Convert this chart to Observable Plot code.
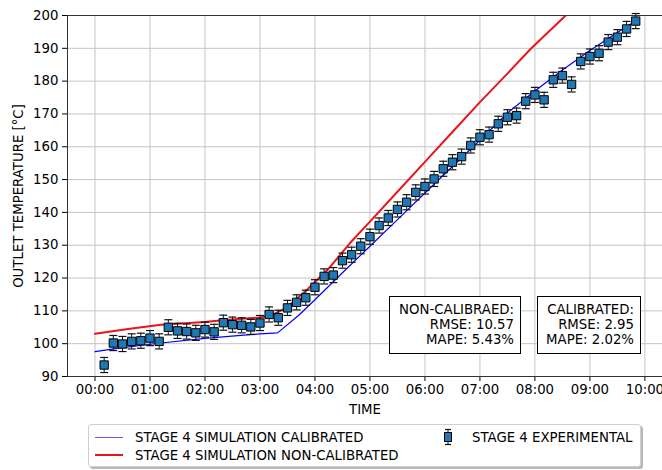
<!DOCTYPE html>
<html>
<head>
<meta charset="utf-8">
<script src="https://cdn.jsdelivr.net/npm/d3@7"></script>
<script src="https://cdn.jsdelivr.net/npm/@observablehq/plot@0.6"></script>
<style>
  body { margin: 0; background: #fff; font-family: "DejaVu Sans", sans-serif; }
  #wrap { position: relative; width: 662px; height: 470px; overflow: hidden; }
  .note {
    position: absolute; box-sizing: border-box; background: #fff;
    border: 1.3px solid #000; text-align: right; color: #000;
    font-size: 13.3px; line-height: 15px; padding: 5px 6px 0 0; white-space: pre;
  }
  .legend {
    position: absolute; left: 88px; top: 424px; width: 553px; height: 43px;
    box-sizing: border-box; background: #fff; border: 1px solid #cfcfcf;
    border-radius: 3px; box-shadow: 2px 2px 0 #b8b8b8;
  }
  .lg-text { position: absolute; font-size: 13.3px; line-height: 15px; color: #000; white-space: nowrap; }
  .lg-line { position: absolute; height: 0; }
</style>
</head>
<body>
<div id="wrap"></div>
<script>
// Experimental outlet temperature, sampled every 10 minutes (minutes, °C)
const expMinutes = [10, 20, 30, 40, 50, 60, 70, 80, 90, 100, 110, 120, 130, 140, 150, 160, 170, 180, 190, 200,
  210, 220, 230, 240, 250, 260, 270, 280, 290, 300, 310, 320, 330, 340, 350, 360, 370, 380, 390, 400,
  410, 420, 430, 440, 450, 460, 470, 480, 490, 500, 510, 520, 530, 540, 550, 560, 570, 580, 590];
const expTemp = [93.5, 100.2, 99.9, 100.7, 100.9, 101.7, 100.7, 105.0, 103.9, 103.7, 103.3, 104.3, 103.6, 106.4, 105.8, 105.6, 105.1, 106.3, 108.9, 107.9,
  110.9, 112.6, 114.0, 117.2, 120.5, 120.9, 125.3, 127.1, 129.7, 132.6, 136.0, 138.3, 140.9, 143.1, 146.1, 147.9, 150.2, 153.3, 155.3, 157.0,
  160.4, 162.9, 163.7, 167.0, 169.0, 169.5, 173.9, 175.8, 174.3, 180.4, 181.7, 179.0, 186.0, 187.5, 188.5, 191.9, 193.4, 195.9, 198.3];
const expError = 2.3; // measurement uncertainty, °C

// Calibrated simulation (hours, °C)
const calTime = [0, 0.5, 1.2, 2.0, 3.0, 3.32, 3.7, 4.0, 4.5, 5.0, 5.5, 6.0, 6.5, 7.0, 7.5, 8.0, 8.5, 9.0, 9.5, 9.84];
const calTemp = [97.6, 98.8, 100.2, 101.6, 103.0, 103.3, 108.6, 113.4, 121.6, 129.7, 137.8, 145.9, 154.0, 162.0, 170.3, 177.0, 183.4, 189.3, 194.8, 198.5];

// Non-calibrated simulation (hours, °C)
const ncTime = [0, 0.6, 1.2, 2.0, 2.35, 3.0, 3.2, 3.4, 3.56, 3.86, 4.23, 4.65, 5.0, 5.5, 6.0, 6.5, 7.0, 7.5, 7.92, 8.56];
const ncTemp = [103.0, 104.5, 105.8, 106.6, 107.2, 108.0, 108.6, 110.2, 112.1, 116.5, 122.5, 130.9, 137.2, 146.3, 155.4, 164.5, 173.6, 182.3, 189.8, 200.0];

// Axis ticks
const hourTicks = [0, 1, 2, 3, 4, 5, 6, 7, 8, 9, 10];
const tempTicks = [90, 100, 110, 120, 130, 140, 150, 160, 170, 180, 190, 200];

// Fit statistics
const nonCalStats = ["NON-CALIBRAED:", "RMSE: 10.57", "MAPE: 5.43%"];
const calStats = ["CALIBRATED:", "RMSE: 2.95", "MAPE: 2.02%"];

const seriesNames = {
  cal: "STAGE 4 SIMULATION CALIBRATED",
  nc: "STAGE 4 SIMULATION NON-CALIBRATED",
  exp: "STAGE 4 EXPERIMENTAL"
};

const COL_CAL = "#0000ff";
const COL_NC = "#e8161b";
const COL_EXP = "#1f77b4";

const experimental = expMinutes.map((m, i) => ({
  t: m / 60, temp: expTemp[i], lo: expTemp[i] - expError, hi: expTemp[i] + expError
}));
const calibrated = calTime.map((t, i) => ({t, temp: calTemp[i]}));
const nonCalibrated = ncTime.map((t, i) => ({t, temp: ncTemp[i]}));

// horizontal cap used at both ends of each error bar
const capSymbol = {
  draw(context) { context.moveTo(-4, 0); context.lineTo(4, 0); }
};

const gridStyle = {stroke: "#c4c4c4", strokeOpacity: 1, strokeWidth: 1};

const chart = Plot.plot({
  width: 662,
  height: 420,
  marginLeft: 67,
  marginRight: 0,
  marginTop: 15,
  marginBottom: 44,
  style: {fontFamily: "DejaVu Sans, sans-serif", fontSize: "13.3px", color: "#000", background: "#fff", overflow: "visible"},
  x: {domain: [-0.5, 10.32]},
  y: {domain: [90, 200]},
  marks: [
    Plot.gridX(hourTicks, gridStyle),
    Plot.gridY(tempTicks, gridStyle),
    Plot.line(calibrated, {x: "t", y: "temp", stroke: COL_CAL, strokeWidth: 1.2, clip: true}),
    Plot.line(nonCalibrated, {x: "t", y: "temp", stroke: COL_NC, strokeWidth: 2, clip: true}),
    Plot.ruleX(experimental, {x: "t", y1: "lo", y2: "hi", stroke: "#111", strokeWidth: 1}),
    Plot.dot(experimental, {x: "t", y: "lo", symbol: capSymbol, fill: "none", stroke: "#111", strokeWidth: 1.2}),
    Plot.dot(experimental, {x: "t", y: "hi", symbol: capSymbol, fill: "none", stroke: "#111", strokeWidth: 1.2}),
    Plot.dot(experimental, {x: "t", y: "temp", symbol: "square", r: 4.7, fill: COL_EXP, stroke: "#000", strokeWidth: 1}),
    Plot.axisX(hourTicks, {
      tickFormat: (d) => String(d).padStart(2, "0") + ":00",
      tickSize: 5, tickPadding: 3,
      label: "TIME", labelAnchor: "center", labelOffset: 37, labelArrow: "none"
    }),
    Plot.axisY(tempTicks, {
      tickSize: 5, tickPadding: 4,
      label: "OUTLET TEMPERATURE [°C]", labelAnchor: "center", labelOffset: 54, labelArrow: "none"
    }),
    Plot.frame({anchor: "top", stroke: "#333"}),
    Plot.frame({anchor: "left", stroke: "#333"}),
    Plot.frame({anchor: "bottom", stroke: "#333"})
  ]
});

const wrap = document.getElementById("wrap");
wrap.appendChild(chart);

// statistics boxes
function addNote(lines, left, top, width, height) {
  const div = document.createElement("div");
  div.className = "note";
  Object.assign(div.style, {left: left + "px", top: top + "px", width: width + "px", height: height + "px"});
  div.textContent = lines.join("\n");
  wrap.appendChild(div);
}
addNote(nonCalStats, 389, 296, 132, 58);
addNote(calStats, 537, 296, 104, 58);

// legend
const legend = document.createElement("div");
legend.className = "legend";
wrap.appendChild(legend);

function addLegendText(text, left, top) {
  const el = document.createElement("div");
  el.className = "lg-text";
  el.style.left = left + "px";
  el.style.top = top + "px";
  el.textContent = text;
  wrap.appendChild(el);
}
function addLegendLine(color, width, left, centerY) {
  const el = document.createElement("div");
  el.className = "lg-line";
  Object.assign(el.style, {
    left: left + "px", top: (centerY - width / 2) + "px", width: "28px",
    borderTop: width + "px solid " + color
  });
  wrap.appendChild(el);
}
addLegendLine("#5a5aff", 1, 95, 437);
addLegendText(seriesNames.cal, 135, 429.5);
addLegendLine(COL_NC, 2, 95, 455);
addLegendText(seriesNames.nc, 135, 447.5);
addLegendText(seriesNames.exp, 472, 429.5);

// error-bar marker for the experimental series
const ns = "http://www.w3.org/2000/svg";
const key = document.createElementNS(ns, "svg");
key.setAttribute("width", 14);
key.setAttribute("height", 20);
Object.assign(key.style, {position: "absolute", left: "441px", top: "427px"});
key.innerHTML =
  `<line x1="7" x2="7" y1="2.5" y2="17.5" stroke="#111" stroke-width="1"/>` +
  `<line x1="4" x2="10" y1="2.5" y2="2.5" stroke="#111" stroke-width="1.2"/>` +
  `<line x1="4" x2="10" y1="17.5" y2="17.5" stroke="#111" stroke-width="1.2"/>` +
  `<rect x="3.5" y="5.5" width="7" height="9" fill="${COL_EXP}" stroke="#000" stroke-width="1"/>`;
wrap.appendChild(key);
</script>
</body>
</html>
